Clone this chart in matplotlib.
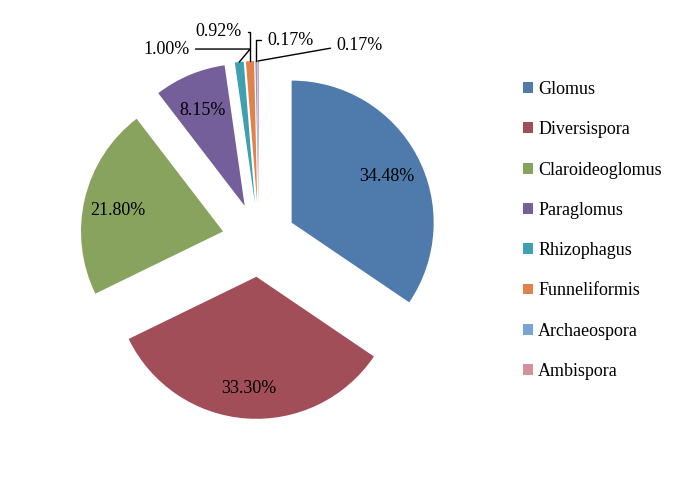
import matplotlib.pyplot as plt
from matplotlib.patches import Patch
import numpy as np

plt.rcParams['font.family'] = ['Liberation Serif', 'DejaVu Serif']

genera = ["Glomus", "Diversispora", "Claroideoglomus", "Paraglomus",
          "Rhizophagus", "Funneliformis", "Archaeospora", "Ambispora"]
shares = [34.48, 33.30, 21.80, 8.15, 1.00, 0.92, 0.17, 0.17]
pct_labels = ["34.48%", "33.30%", "21.80%", "8.15%",
              "1.00%", "0.92%", "0.17%", "0.17%"]
colors = ["#4e7bab", "#a14e58", "#87a35d", "#745f9a",
          "#3fa0b0", "#e0824a", "#7aa2d4", "#d6909a"]

fs = 13
explode = 0.26
lim = 1.408

fig = plt.figure(figsize=(7, 4.82), dpi=100)
ax = fig.add_axes([0.0843, 0.0872, 0.5714, 0.830])
wedges, _ = ax.pie(shares, colors=colors, startangle=90, counterclock=False,
                   explode=[explode] * len(shares),
                   wedgeprops=dict(linewidth=0))
ax.set_xlim(-lim, lim)
ax.set_ylim(-lim, lim)
ax.set_aspect("equal")
ax.axis("off")

# labels inside the four big slices
for w, lab in zip(wedges[:4], pct_labels[:4]):
    mid = np.deg2rad((w.theta1 + w.theta2) / 2)
    cx, cy = w.center
    ax.text(cx + 0.76 * np.cos(mid), cy + 0.76 * np.sin(mid) - 0.03, lab,
            ha="center", va="center", fontsize=fs)

# small slices, labels outside with leader lines
text_pos = [(-0.486, 1.324, "right", 50),
            (-0.120, 1.444, "right", 90),
            (0.056, 1.387, "left", 90),
            (0.542, 1.352, "left", 10)]
for w, lab, (tx, ty, ha, angb) in zip(wedges[4:], pct_labels[4:], text_pos):
    mid = np.deg2rad((w.theta1 + w.theta2) / 2)
    cx, cy = w.center
    px, py = cx + np.cos(mid), cy + np.sin(mid)
    ax.annotate(lab, xy=(px, py), xytext=(tx, ty + 0.02), ha=ha, va="center",
                fontsize=fs, annotation_clip=False,
                arrowprops=dict(arrowstyle="-", color="black", lw=1,
                                shrinkA=2, shrinkB=0,
                                connectionstyle="angle,angleA=0,angleB=%d,rad=0" % angb))

handles = [Patch(facecolor=c, edgecolor="none") for c in colors]
fig.legend(handles, genera, loc="upper left", bbox_to_anchor=(0.747, 0.832),
           frameon=False, fontsize=fs, handlelength=0.55, handleheight=0.55,
           handletextpad=0.3, labelspacing=1.29, borderpad=0, borderaxespad=0)

plt.savefig("out.png", dpi=100)
